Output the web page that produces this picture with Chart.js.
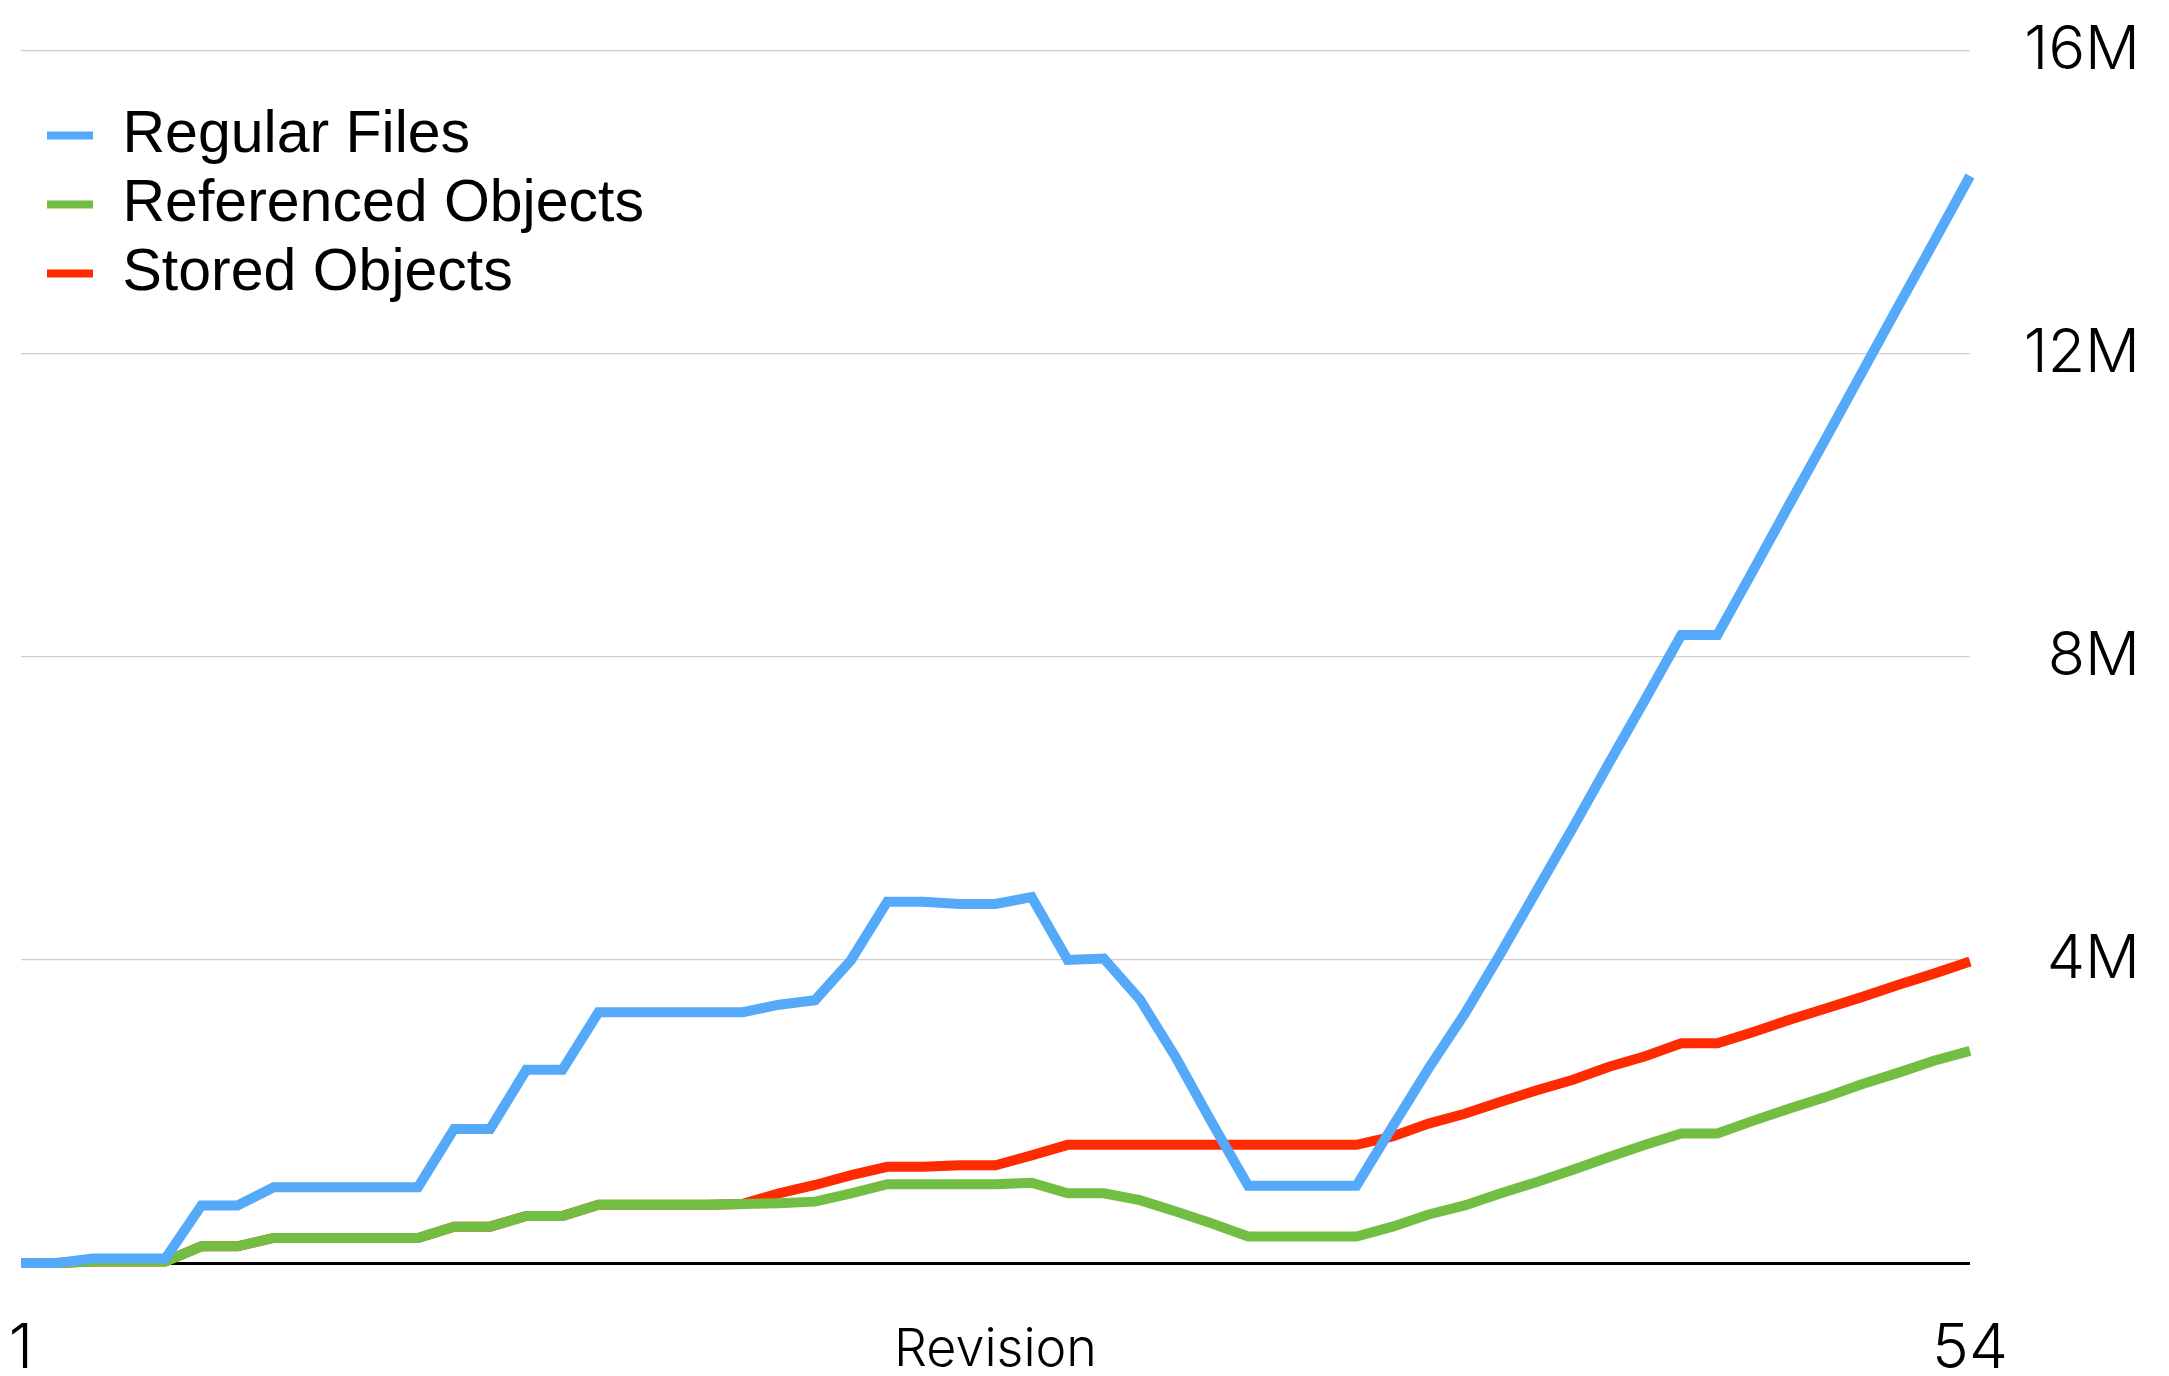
<!DOCTYPE html>
<html>
<head>
<meta charset="utf-8">
<title>Repository size by revision</title>
<script src="https://cdn.jsdelivr.net/npm/chart.js@4.4.1/dist/chart.umd.min.js"></script>
<style>
  html, body { margin: 0; padding: 0; background: #fff; }
  #wrap { width: 2169px; height: 1376px; }
</style>
</head>
<body>
<div id="wrap"><canvas id="out"></canvas></div>
<script>
// one sample per revision step, only the ends of the axis are labelled
const samples = Array.from({ length: 55 }, (_, i) => i);
const xTickLabels = ["1", "54"];

const yTickValues = [4, 8, 12, 16];
const yTickLabels = ["4M", "8M", "12M", "16M"];

// sizes in millions
const regularFiles = [
  0, 0, 0.06, 0.06, 0.06, 0.76, 0.76, 1.0, 1.0, 1.0, 1.0, 1.0,
  1.77, 1.77, 2.55, 2.55, 3.31, 3.31, 3.31, 3.31, 3.31,
  3.41, 3.47, 4.0, 4.77, 4.77, 4.74, 4.74, 4.83,
  4.0, 4.02, 3.48, 2.71, 1.85, 1.02, 1.02, 1.02, 1.02,
  1.8, 2.57, 3.29, 4.09, 4.92, 5.75, 6.6, 7.44, 8.29, 8.29,
  9.15, 10.02, 10.88, 11.75, 12.62, 13.48, 14.35
];
const referencedObjects = [
  0, 0, 0.02, 0.02, 0.02, 0.22, 0.22, 0.33, 0.33, 0.33, 0.33, 0.33,
  0.48, 0.48, 0.62, 0.62, 0.77, 0.77, 0.77, 0.77, 0.78,
  0.79, 0.81, 0.92, 1.04, 1.04, 1.04, 1.04, 1.06,
  0.92, 0.92, 0.83, 0.68, 0.52, 0.35, 0.35, 0.35, 0.35,
  0.48, 0.64, 0.76, 0.92, 1.07, 1.23, 1.4, 1.56, 1.71, 1.71,
  1.88, 2.04, 2.19, 2.36, 2.51, 2.67, 2.8
];
const storedObjects = [
  0, 0, 0.02, 0.02, 0.02, 0.22, 0.22, 0.33, 0.33, 0.33, 0.33, 0.33,
  0.48, 0.48, 0.62, 0.62, 0.77, 0.77, 0.77, 0.77, 0.78,
  0.92, 1.03, 1.16, 1.27, 1.27, 1.29, 1.29, 1.42,
  1.56, 1.56, 1.56, 1.56, 1.56, 1.56, 1.56, 1.56, 1.56,
  1.67, 1.84, 1.97, 2.13, 2.28, 2.42, 2.59, 2.73, 2.9, 2.9,
  3.05, 3.21, 3.36, 3.51, 3.67, 3.82, 3.98
];

const FONT = "'Liberation Sans', Arial, sans-serif";
const THIN = "Inter, 'Liberation Sans', sans-serif";

// legend sits inside the plot, a bit away from its corner
const legendNudge = {
  id: "legendNudge",
  afterLayout(chart) {
    chart.legend.left = chart.chartArea.left + 16;
    chart.legend.top = chart.chartArea.top + 45;
  }
};

function line(label, data, color) {
  return {
    label: label,
    data: data,
    borderColor: color,
    backgroundColor: color,
    borderWidth: 10,
    tension: 0,
    pointRadius: 0,
    borderJoinStyle: "miter",
    borderCapStyle: "butt",
    clip: false
  };
}

const canvasCtx = document.getElementById("out").getContext("2d");
new Chart(canvasCtx, {
  type: "line",
  data: {
    labels: samples,
    datasets: [
      line("Regular Files", regularFiles, "#54a9f9"),
      line("Referenced Objects", referencedObjects, "#72be43"),
      line("Stored Objects", storedObjects, "#ff2b00")
    ]
  },
  options: {
    responsive: true,
    maintainAspectRatio: false,
    animation: false,
    layout: { padding: { left: 21, top: 51, right: 29, bottom: 0 } },
    plugins: {
      tooltip: { enabled: false },
      legend: {
        position: "chartArea",
        align: "start",
        labels: {
          color: "#000",
          font: { family: FONT, size: 59 },
          boxWidth: 46,
          boxHeight: 8,
          padding: 10,
          generateLabels: (chart) =>
            Chart.defaults.plugins.legend.labels.generateLabels(chart)
              .map(item => Object.assign(item, { lineWidth: 0 }))
        }
      }
    },
    scales: {
      x: {
        type: "category",
        offset: false,
        // invisible tick marks push the labels down
        grid: { display: true, drawOnChartArea: false, drawTicks: true, tickLength: 49, tickColor: "rgba(0,0,0,0)" },
        border: { display: false },
        ticks: {
          autoSkip: false,
          maxRotation: 0,
          padding: 0,
          color: "#000",
          font: { family: THIN, size: 62, weight: 300 },
          callback: (value, index, ticks) => {
            if (index === 0) return xTickLabels[0];
            if (index === ticks.length - 1) return xTickLabels[1];
            return "";
          }
        },
        title: {
          display: true,
          text: "Revision",
          color: "#000",
          font: { family: THIN, size: 52, weight: 300, lineHeight: 1 },
          padding: 0
        },
        afterFit: (scale) => { scale.height = 113; }
      },
      y: {
        position: "right",
        min: 0,
        max: 16,
        border: { display: false },
        grid: {
          drawTicks: true,
          tickLength: 51,
          tickColor: "rgba(0,0,0,0)",
          color: (c) => c.tick && c.tick.value === 0 ? "#000" : "#cfcfcf",
          lineWidth: (c) => c.tick && c.tick.value === 0 ? 3 : 1.2
        },
        ticks: {
          stepSize: 4,
          padding: 0,
          crossAlign: "far",
          color: "#000",
          font: { family: THIN, size: 61, weight: 300 },
          callback: (value) => {
            const k = yTickValues.indexOf(value);
            return k < 0 ? "" : yTickLabels[k];
          }
        },
        afterFit: (scale) => { scale.width = 170; }
      }
    }
  },
  plugins: [legendNudge]
});
</script>
</body>
</html>
